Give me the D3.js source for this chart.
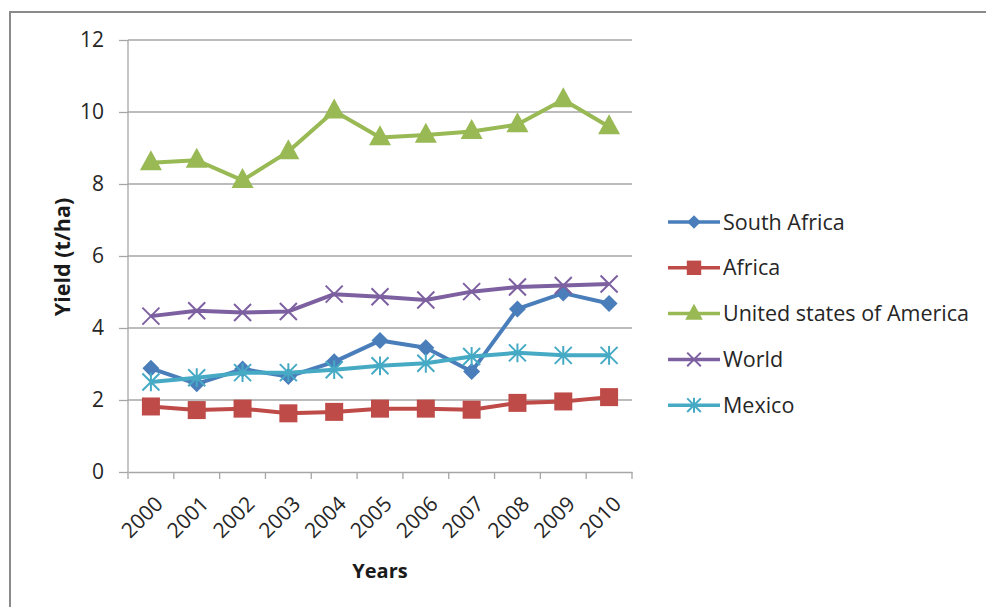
<!DOCTYPE html>
<html><head><meta charset="utf-8">
<script src="https://cdn.jsdelivr.net/npm/d3@7"></script>
<style>body{margin:0;background:#fff}svg{display:block}</style>
</head><body>
<script>
const years = ["2000","2001","2002","2003","2004","2005","2006","2007","2008","2009","2010"];
const southAfrica = [2.88,2.45,2.86,2.65,3.06,3.65,3.45,2.79,4.53,4.97,4.68];
const africa = [1.82,1.72,1.76,1.63,1.67,1.76,1.76,1.73,1.92,1.96,2.08];
const usa = [8.59,8.66,8.10,8.90,10.03,9.29,9.36,9.46,9.65,10.34,9.59];
const world = [4.33,4.48,4.43,4.46,4.94,4.87,4.78,5.01,5.14,5.18,5.22];
const mexico = [2.50,2.62,2.76,2.76,2.84,2.95,3.02,3.21,3.31,3.24,3.24];
const yTicks = [0,2,4,6,8,10,12];
const seriesNames = ["South Africa","Africa","United states of America","World","Mexico"];
const seriesColors = ["#4A7EBB","#BE4B48","#98B954","#7D60A0","#46AAC5"];
const seriesMarkers = ["diamond","square","triangle","x","asterisk"];
const seriesValues = [southAfrica, africa, usa, world, mexico];

const W = 986, H = 607;
const svg = d3.select("body").append("svg").attr("width", W).attr("height", H);
const font = "'Open Sans', sans-serif";

svg.append("path").attr("d", "M10,607 L10,12 L986,12").attr("fill","none").attr("stroke","#8a8a8a").attr("stroke-width",2);

const m = {l:128, r:632, t:40, b:472};
const x = d3.scaleBand().domain(years).range([m.l, m.r]);
const y = d3.scaleLinear().domain([0,12]).range([m.b, m.t]);

// gridlines
svg.append("g").selectAll("line").data(yTicks.filter(d=>d>0)).join("line")
  .attr("x1", m.l).attr("x2", m.r).attr("y1", d=>y(d)).attr("y2", d=>y(d))
  .attr("stroke","#a6a6a6").attr("stroke-width",1.3);

// y axis
const ya = svg.append("g").attr("transform",`translate(${m.l},0)`)
  .call(d3.axisLeft(y).tickValues(yTicks).tickSize(9).tickPadding(15));
ya.select(".domain").attr("stroke","#a6a6a6").attr("stroke-width",1.3).attr("d",`M0,${m.t}V${m.b}`);
ya.selectAll(".tick line").attr("stroke","#a6a6a6").attr("stroke-width",1.3);
ya.selectAll(".tick text").attr("font-family",font).attr("font-size",21).attr("fill","#262626");

// x axis
const xa = svg.append("g").attr("transform",`translate(0,${m.b})`)
  .call(d3.axisBottom(x).tickSize(0).tickSizeOuter(0));
xa.select(".domain").attr("stroke","#a6a6a6").attr("stroke-width",1.3);
xa.selectAll(".tick line").remove();
const bounds = years.map(d=>x(d)).concat([m.r]);
xa.append("g").selectAll("line").data(bounds).join("line")
  .attr("x1",d=>d).attr("x2",d=>d).attr("y1",0).attr("y2",7)
  .attr("stroke","#a6a6a6").attr("stroke-width",1.3);
xa.selectAll(".tick text").attr("font-family",font).attr("font-size",21).attr("fill","#262626")
  .attr("text-anchor","end").attr("dy","0.35em")
  .attr("transform","translate(6,26) rotate(-45)");

// axis titles
svg.append("text").attr("transform",`translate(62,257) rotate(-90)`).attr("text-anchor","middle")
  .attr("dy","0.35em")
  .attr("font-family",font).attr("font-weight","bold").attr("font-size",21.5).attr("fill","#1a1a1a").text("Yield (t/ha)");
svg.append("text").attr("x",380).attr("y",578).attr("text-anchor","middle")
  .attr("font-family",font).attr("font-weight","bold").attr("font-size",20).attr("fill","#1a1a1a").text("Years");

function marker(g, type, color, s) {
  if (type==="diamond") {
    g.append("path").attr("d", `M0,${-s/2}L${s/2},0L0,${s/2}L${-s/2},0Z`).attr("fill",color);
  } else if (type==="square") {
    g.append("rect").attr("x",-s/2).attr("y",-s/2).attr("width",s).attr("height",s).attr("fill",color);
  } else if (type==="triangle") {
    g.append("path").attr("d", `M0,${-s*0.62}L${s*0.55},${s*0.38}L${-s*0.55},${s*0.38}Z`).attr("fill",color);
  } else if (type==="x") {
    const h = s/2;
    g.append("path").attr("d",`M${-h},${-h}L${h},${h}M${-h},${h}L${h},${-h}`).attr("stroke",color).attr("stroke-width",2).attr("fill","none");
  } else if (type==="asterisk") {
    const h = s/2;
    g.append("path").attr("d",`M${-h},${-h}L${h},${h}M${-h},${h}L${h},${-h}M0,${-h*1.1}L0,${h*1.1}`).attr("stroke",color).attr("stroke-width",2).attr("fill","none");
  }
}
const mSizes = {diamond:17, square:18, triangle:20, x:17, asterisk:17};

const line = d3.line().x((d,i)=>x(years[i])+x.bandwidth()/2).y(d=>y(d));
seriesValues.forEach((vals, k) => {
  const g = svg.append("g");
  g.append("path").datum(vals).attr("d", line).attr("fill","none")
    .attr("stroke", seriesColors[k]).attr("stroke-width",4).attr("stroke-linejoin","round");
  vals.forEach((v,i) => {
    const mg = g.append("g").attr("transform",`translate(${x(years[i])+x.bandwidth()/2},${y(v)})`);
    marker(mg, seriesMarkers[k], seriesColors[k], mSizes[seriesMarkers[k]]);
  });
});

// legend
const lg = svg.append("g");
seriesNames.forEach((n,k) => {
  const yy = 222 + k*45.8;
  lg.append("line").attr("x1",668).attr("x2",720).attr("y1",yy).attr("y2",yy)
    .attr("stroke",seriesColors[k]).attr("stroke-width",3.5);
  const mg = lg.append("g").attr("transform",`translate(694,${yy})`);
  marker(mg, seriesMarkers[k], seriesColors[k], mSizes[seriesMarkers[k]]*0.8);
  lg.append("text").attr("x",723).attr("y",yy).attr("dy","0.35em")
    .attr("font-family",font).attr("font-size",21.5).attr("fill","#262626").text(n);
});
</script>
</body></html>
